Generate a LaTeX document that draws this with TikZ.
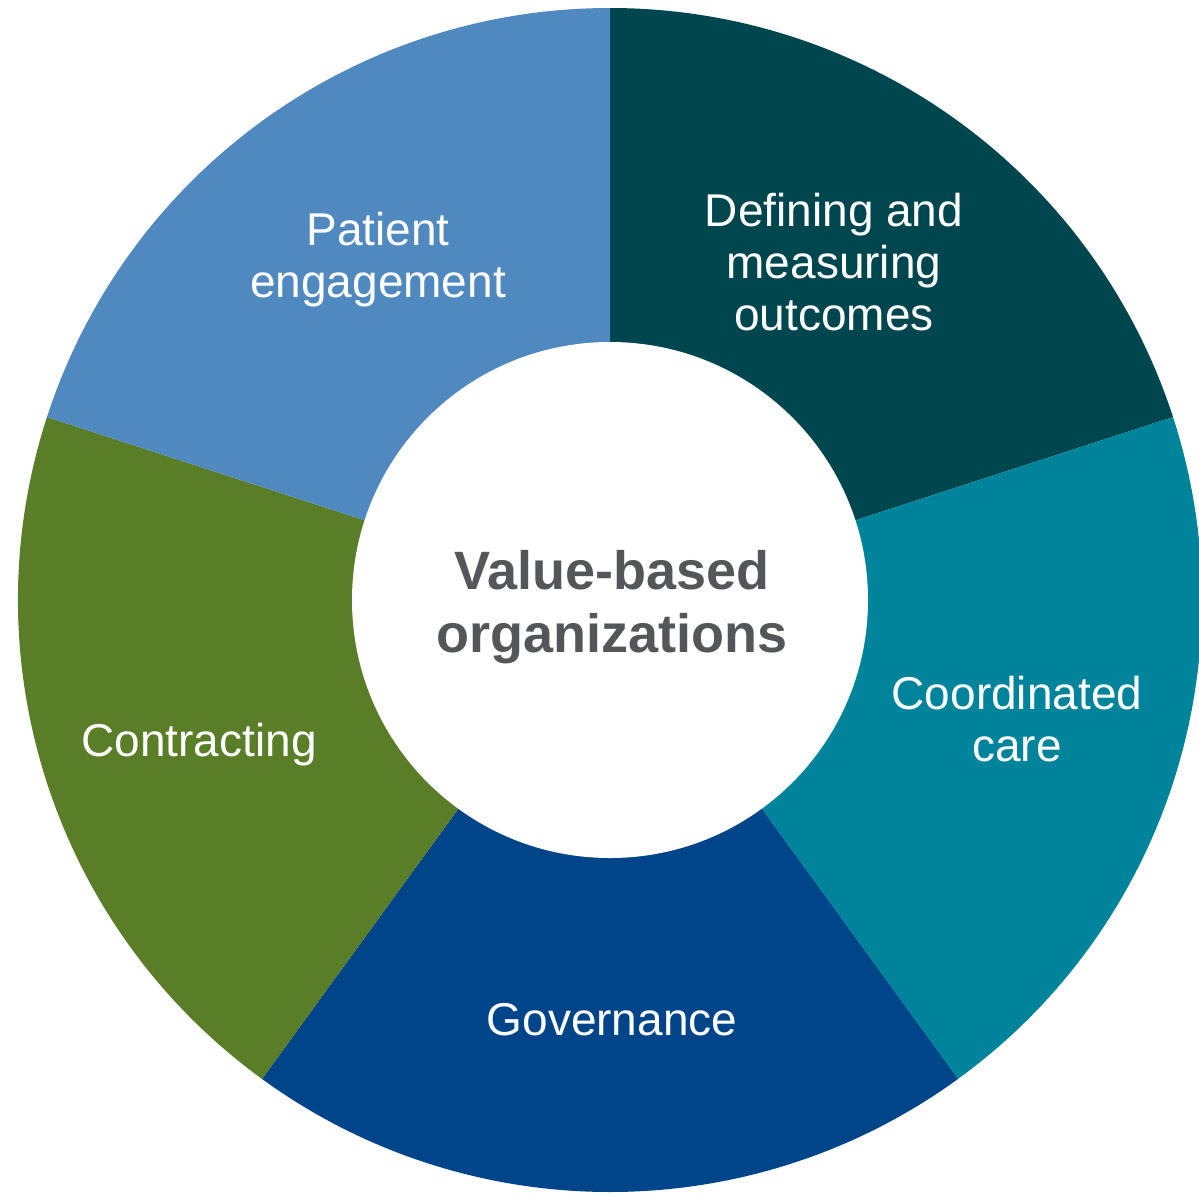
\documentclass[tikz,border=0pt]{standalone}
\usepackage{fontspec}
\setmainfont{Liberation Sans}
\definecolor{cDef}{HTML}{00464F}
\definecolor{cCoord}{HTML}{00849B}
\definecolor{cGov}{HTML}{004489}
\definecolor{cCon}{HTML}{5A7D28}
\definecolor{cPat}{HTML}{5088C0}
\definecolor{cTitle}{HTML}{54565A}
\begin{document}
\begin{tikzpicture}[x=0.5pt,y=-0.5pt,
  seglabel/.style={text=white, align=center, font=\fontsize{23}{26}\selectfont, inner sep=0pt},
  titlelabel/.style={text=cTitle, align=center, font=\bfseries\fontsize{27}{31.5}\selectfont, inner sep=0pt}]
\useasboundingbox (0,0) rectangle (1199,1195);
\def\R{592}
\def\r{258}
\begin{scope}[shift={(610,600)}]
  \fill[cDef]   (0,0) -- (-90:\R) arc[start angle=-90, end angle=-18, radius=\R] -- cycle;
  \fill[cCoord] (0,0) -- (-18:\R) arc[start angle=-18, end angle=54, radius=\R] -- cycle;
  \fill[cGov]   (0,0) -- (54:\R) arc[start angle=54, end angle=126, radius=\R] -- cycle;
  \fill[cCon]   (0,0) -- (126:\R) arc[start angle=126, end angle=198, radius=\R] -- cycle;
  \fill[cPat]   (0,0) -- (198:\R) arc[start angle=198, end angle=270, radius=\R] -- cycle;
  \fill[white]  (0,0) circle[radius=\r];
\end{scope}
\node[titlelabel] (title) at (612,607) {Value-based\\organizations};
\node[seglabel] (def) at (834,262) {Defining and\\measuring\\outcomes};
\node[seglabel] (pat) at (378,260) {Patient\\engagement};
\node[seglabel] (con) at (199,745) {Contracting};
\node[seglabel] (coord) at (1017,719) {Coordinated\\care};
\node[seglabel] (gov) at (612,1020) {Governance};
\end{tikzpicture}
\end{document}
